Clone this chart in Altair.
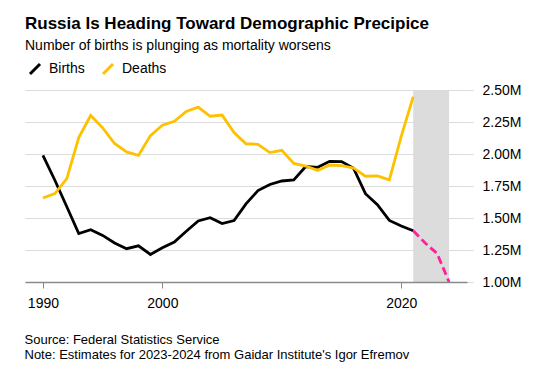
import altair as alt
import pandas as pd

years = [1990, 1991, 1992, 1993, 1994, 1995, 1996, 1997, 1998, 1999,
         2000, 2001, 2002, 2003, 2004, 2005, 2006, 2007, 2008, 2009,
         2010, 2011, 2012, 2013, 2014, 2015, 2016, 2017, 2018, 2019,
         2020, 2021]
births = [1.989, 1.795, 1.588, 1.379, 1.408, 1.364, 1.305, 1.260, 1.283, 1.215,
          1.267, 1.312, 1.397, 1.477, 1.502, 1.457, 1.480, 1.610, 1.714, 1.762,
          1.789, 1.797, 1.902, 1.896, 1.943, 1.941, 1.889, 1.690, 1.604, 1.481,
          1.437, 1.400]
deaths = [1.656, 1.691, 1.807, 2.129, 2.301, 2.204, 2.082, 2.016, 1.989, 2.144,
          2.225, 2.255, 2.332, 2.366, 2.295, 2.304, 2.167, 2.080, 2.076, 2.011,
          2.029, 1.926, 1.906, 1.872, 1.914, 1.909, 1.891, 1.826, 1.829, 1.798,
          2.139, 2.448]
est_years = [2021, 2022, 2023, 2024]
est_births = [1.400, 1.305, 1.222, 1.000]
band_start = [2021]
band_end = [2024]
x_ticks = [1990, 2000, 2020]
y_ticks = [1.0, 1.25, 1.5, 1.75, 2.0, 2.25, 2.5]

FONT = "Liberation Sans"

df = pd.DataFrame({
    "year": years * 2,
    "value": births + deaths,
    "series": ["Births"] * len(years) + ["Deaths"] * len(years),
})
est = pd.DataFrame({"year": est_years, "value": est_births})
band = pd.DataFrame({"start": band_start, "end": band_end})

xscale = alt.Scale(domain=[1988.5, 2025.5], nice=False, zero=False)
yscale = alt.Scale(domain=[1.0, 2.5], nice=False, zero=False)

x_axis = alt.Axis(
    values=x_ticks, format="d", grid=False,
    domainColor="#8a8a8a", domainWidth=1.6,
    tickColor="#8a8a8a", tickSize=6, tickWidth=1,
    labelFont=FONT, labelFontSize=14, labelColor="#000000",
    labelBaseline="alphabetic", labelPadding=19, labelOverlap=False,
    title=["Source: Federal Statistics Service",
           "Note: Estimates for 2023-2024 from Gaidar Institute's Igor Efremov"],
    titleFont=FONT, titleFontSize=13, titleFontWeight="normal", titleColor="#000000",
    titleAlign="left", titleBaseline="alphabetic", titleX=-1, titleY=61.5,
    titleLineHeight=14.5, zindex=1,
)
y_axis = alt.Axis(
    orient="right", values=y_ticks, tickCount=7, grid=True, gridColor="#dcdcdc", gridWidth=1,
    domain=False, tickColor="#dcdcdc", tickSize=6,
    labelExpr="format(datum.value, '.2f') + 'M'", labelOverlap=False,
    labelFont=FONT, labelFontSize=14, labelColor="#000000",
    labelAlign="left", labelBaseline="middle", labelPadding=9,
    title=None,
)

band_layer = alt.Chart(band).mark_rect(color="#d9d9d9", opacity=0.92).encode(
    x=alt.X("start:Q", scale=xscale, axis=x_axis),
    x2="end:Q",
)

lines = alt.Chart(df).mark_line(strokeWidth=2.8).encode(
    x=alt.X("year:Q", scale=xscale, axis=x_axis),
    y=alt.Y("value:Q", scale=yscale, axis=y_axis),
    color=alt.Color(
        "series:N",
        scale=alt.Scale(domain=["Births", "Deaths"], range=["#000000", "#fdc100"]),
        legend=alt.Legend(
            orient="none", legendX=3, legendY=-28, direction="horizontal",
            title=None, symbolType="M-1,1L1,-1", symbolSize=100,
            symbolStrokeWidth=3, labelFont=FONT, labelFontSize=14,
            labelColor="#000000", labelOffset=7, columnPadding=12, padding=0,
        ),
    ),
)

est_layer = alt.Chart(est).mark_line(strokeWidth=2.8, color="#ff1f96", strokeDash=[8, 4]).encode(
    x=alt.X("year:Q", scale=xscale, axis=x_axis),
    y=alt.Y("value:Q", scale=yscale, axis=y_axis),
)

chart = alt.layer(band_layer, lines, est_layer).properties(
    width=442, height=192,
    padding={"left": 25, "top": 90, "right": 79, "bottom": 94},
    autosize=alt.AutoSizeParams(type="none"),
    title=alt.TitleParams(
        text="Russia Is Heading Toward Demographic Precipice",
        subtitle="Number of births is plunging as mortality worsens",
        anchor="start", frame="group", offset=8,
        font=FONT, fontSize=17, fontWeight="bold", color="#000000",
        subtitleFont=FONT, subtitleFontSize=14, subtitleColor="#000000",
        subtitlePadding=6,
    ),
).configure_view(stroke=None)

chart.save("out.html", embed_options={"renderer": "svg", "actions": False})
